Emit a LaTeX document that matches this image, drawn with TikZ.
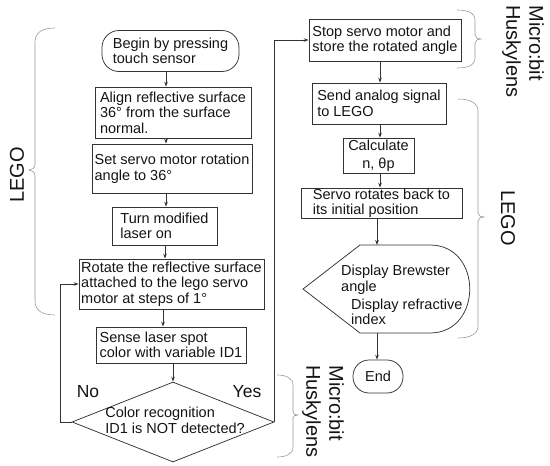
\documentclass[tikz,border=0pt]{standalone}
\usepackage{fontspec}
\setmainfont{Liberation Sans}
\usetikzlibrary{shapes.geometric,arrows.meta}
\begin{document}
\begin{tikzpicture}[x=1pt,y=-1pt,
  box/.style={draw=black!80, line width=0.75pt, rectangle, align=left, inner xsep=2pt, inner ysep=0.5pt,
    font=\fontsize{14.5}{15.5}\selectfont, text=black!92},
  term/.style={box, rounded corners=17pt},
  dia/.style={draw=black!80, line width=0.75pt, diamond, inner sep=0pt, font=\fontsize{14.5}{16}\selectfont, text=black!92},
  txt/.style={align=left, inner sep=0pt, font=\fontsize{14.5}{15.5}\selectfont, text=black!92},
  lbl/.style={inner sep=0pt, font=\fontsize{17.5}{20}\selectfont, text=black!92},
  big/.style={inner sep=0pt, align=left, font=\fontsize{20}{23}\selectfont, text=black!92},
  arr/.style={draw=black!80, line width=0.75pt, -{Stealth[length=5pt,width=3.6pt]}},
  shp/.style={draw=black!80, line width=0.75pt},
  brc/.style={draw=black!40, line width=0.6pt},
]
\useasboundingbox (0,0) rectangle (550,466);

% left column
\node[term, minimum width=137pt, minimum height=41pt] (start) at (170.5,51) {Begin by pressing\\touch sensor};
\node[box, minimum width=156pt, minimum height=51pt] (align) at (173,112.5) {Align reflective surface\\36° from the surface\\normal.};
\node[box, minimum width=160pt, minimum height=49pt] (set) at (172,168.5) {Set servo motor rotation\\angle to 36°};
\node[box, minimum width=105pt, minimum height=38pt] (turn) at (164.5,226) {Turn modified\\laser on};
\node[box, minimum width=185pt, minimum height=50pt] (rot) at (171.5,284) {Rotate the reflective surface\\attached to the lego servo\\motor at steps of 1°};
\node[box, minimum width=150pt, minimum height=36pt] (sense) at (171,345) {Sense laser spot\\color with variable ID1};
\node[dia, minimum width=202pt, minimum height=80pt] (dec) at (173,422)
  {\raisebox{-4pt}[0pt][0pt]{\makebox[0pt]{\hspace{4pt}\begin{tabular}{@{}l@{}}Color recognition\\ID1 is NOT detected?\end{tabular}}}};
\node[lbl] (no) at (88,392) {No};
\node[lbl] (yes) at (247,392) {Yes};

% right column
\node[box, minimum width=152pt, minimum height=42pt] (stop) at (385,40) {Stop servo motor and\\store the rotated angle};
\node[box, minimum width=134pt, minimum height=41pt] (send) at (379,103.5) {Send analog signal\\to LEGO};
\node[box, minimum width=71pt, minimum height=35pt, align=center] (calc) at (378.5,155.5) {Calculate\\[2pt]n, θp};
\node[box, minimum width=161pt, minimum height=30pt, inner ysep=0pt] (back) at (381.5,203) {Servo rotates back to\\its initial position};

\draw[shp] (303,289) -- (360,245) -- (430,245) .. controls (483,245) and (483,333) .. (430,333) -- (360,333) -- cycle;
\coordinate (dispN) at (377,245);
\coordinate (dispS) at (377,333);
\node[txt, anchor=west] (d1) at (341,279.5) {Display Brewster\\angle};
\node[txt, anchor=west] (d2) at (351,312) {Display refractive\\index};
\node[box, rounded corners=16pt, minimum width=50pt, minimum height=33pt, align=center] (end) at (378,376.5) {End};

% connectors
\coordinate (cl) at (166,0);
\coordinate (cr) at (380,0);
\draw[arr] (start.south -| cl) -- (align.north -| cl);
\draw[arr] (align.south -| cl) -- (set.north -| cl);
\draw[arr] (set.south -| cl) -- (turn.north -| cl);
\draw[arr] ([xshift=-1pt]turn.south -| cl) -- ([xshift=-1pt]rot.north -| cl);
\draw[arr] ([xshift=-8.5pt]rot.south) -- ([xshift=-8.5pt]rot.south |- sense.north);
\draw[arr] (sense.south -| dec.north) -- (dec.north);
\draw[arr] (dec.west) -- ++(-11,0) |- (rot.west);
\draw[arr] (dec.east) |- (stop.west);
\draw[arr] (stop.south -| cr) -- (send.north -| cr);
\draw[arr] (send.south -| cr) -- (calc.north -| cr);
\draw[arr] (calc.south -| cr) -- (back.north -| cr);
\draw[arr] (back.south -| dispN) -- (dispN);
\draw[arr] (dispS) -- (dispS |- end.north);

% braces and group labels
\draw[brc] (55,28) .. controls (43,28) and (35,32) .. (35,42) -- (35,164)
  .. controls (35,168) and (32,170) .. (29,170) .. controls (32,170) and (35,172) .. (35,176)
  -- (35,301) .. controls (35,311) and (43,315) .. (55,315);
\node[big, rotate=90] (lego1) at (17,175) {LEGO};

\draw[brc] (457,10) .. controls (468,10) and (475,13) .. (475,20) -- (475,35)
  .. controls (475,38) and (478,39) .. (481,39) .. controls (478,39) and (475,40) .. (475,43)
  -- (475,58) .. controls (475,65) and (468,68) .. (457,68);
\node[big, rotate=-90] (mh1) at (523,51.5) {Micro:bit\\Huskylens};

\draw[brc] (458,99) .. controls (470,99) and (478,103) .. (478,111) -- (478,213)
  .. controls (478,216) and (481,217) .. (484,217) .. controls (481,217) and (478,218) .. (478,221)
  -- (478,326) .. controls (478,334) and (470,338) .. (458,338);
\node[big, rotate=-90] (lego2) at (508,218) {LEGO};

\draw[brc] (277,375) .. controls (286,375) and (293,378) .. (293,385) -- (293,412)
  .. controls (293,414) and (295,415) .. (298,415) .. controls (295,415) and (293,416) .. (293,418)
  -- (293,447) .. controls (293,454) and (286,457) .. (277,457);
\node[big, rotate=-90] (mh2) at (323,411.5) {Micro:bit\\Huskylens};
\end{tikzpicture}
\end{document}
